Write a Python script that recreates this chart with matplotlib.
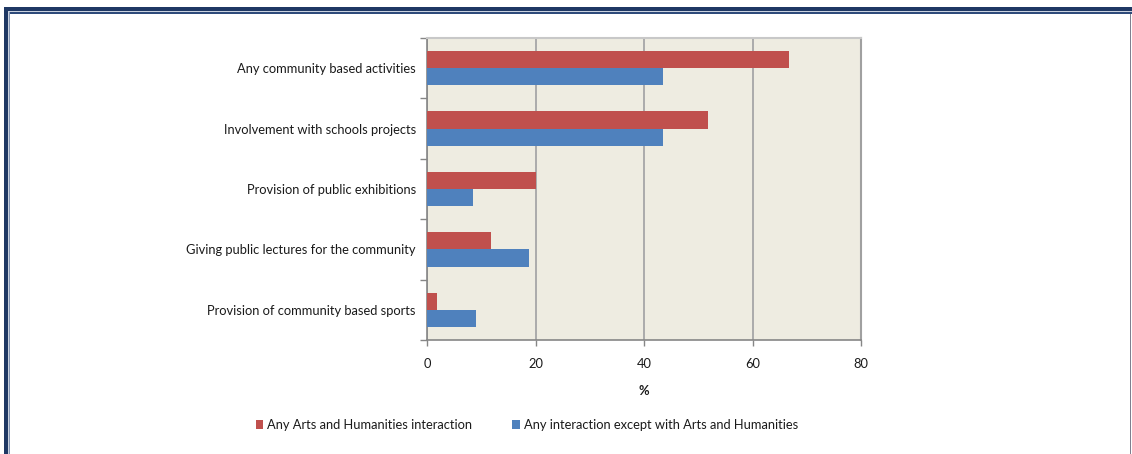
import numpy as np
import matplotlib.pyplot as plt
from matplotlib.patches import Rectangle

plt.rcParams['font.family'] = ['Lato', 'DejaVu Sans']

# survey data (%)
categories = ["Any community based activities",
              "Involvement with schools projects",
              "Provision of public exhibitions",
              "Giving public lectures for the community",
              "Provision of community based sports"]
arts = [66.7, 51.8, 20.0, 11.8, 1.8]
non_arts = [43.5, 43.5, 8.5, 18.8, 9.0]
series_names = ["Any Arts and Humanities interaction",
                "Any interaction except with Arts and Humanities"]

W, H = 1132, 454
fig = plt.figure(figsize=(W / 100, H / 100), dpi=100)
fig.patch.set_facecolor('white')


def fx(x):
    return x / W


def fy(y):
    return 1 - y / H


# frame around the figure
def frect(x0, y0, x1, y1, color):
    fig.patches.append(Rectangle((fx(x0), fy(y1)), fx(x1) - fx(x0), fy(y0) - fy(y1),
                                 transform=fig.transFigure, color=color, lw=0))

frect(4, 7, W, 10.5, '#1F3864')
frect(7, 10.5, W, 12, '#C9D1DE')
frect(9, 12, W, 13.5, '#2E4A7A')
frect(4, 7, 7.5, H, '#1F3864')
frect(7.5, 10.5, 8.5, H, '#C9D1DE')
frect(8.5, 12, 10, H, '#8394B2')
frect(1129.5, 13.5, 1131, H, '#7F7F8F')

ax = fig.add_axes([fx(427), fy(340), fx(861) - fx(427), fy(38) - fy(340)])
ax.set_facecolor('#EEECE1')

y = np.arange(len(categories))
h = 0.285
ax.barh(y - h / 2, arts, height=h, color='#C0504D', label=series_names[0], zorder=3)
ax.barh(y + h / 2, non_arts, height=h, color='#4F81BD', label=series_names[1], zorder=3)

ax.set_xlim(0, 80)
ax.set_ylim(len(categories) - 0.5, -0.5)
ax.set_xticks([0, 20, 40, 60, 80])
ax.xaxis.grid(True, color='#ABABAB', lw=1.4, zorder=1)
ax.set_axisbelow(True)

# category labels without ticks, tick marks on category boundaries
ax.set_yticks(y)
ax.set_yticklabels(categories, fontsize=9.3, color='#1A1A1A')
ax.tick_params(axis='y', length=0, pad=8)
ax.set_yticks(np.arange(-0.5, len(categories)), minor=True)
ax.tick_params(axis='y', which='minor', length=5, color='#868686', width=1)
ax.tick_params(axis='x', length=4, color='#868686', width=1, labelsize=9.3,
               labelcolor='#1A1A1A', pad=9)

for side in ['left', 'bottom']:
    ax.spines[side].set_color('#868686')
    ax.spines[side].set_linewidth(1.2)
ax.spines['top'].set_color('#C8C8C8')
ax.spines['right'].set_color('#A0A0A0')
ax.spines['top'].set_linewidth(1.5)
ax.spines['right'].set_linewidth(1.5)

ax.set_xlabel('%', fontsize=9.3, fontweight='bold', color='#1A1A1A', labelpad=11)

fig.legend(loc='center', bbox_to_anchor=(fx(527), fy(425)), ncol=2, frameon=False,
           fontsize=9.3, handlelength=0.6, handleheight=0.6, handletextpad=0.3,
           columnspacing=3.1, labelcolor='#1A1A1A')

fig.savefig('out.png', dpi=100)
